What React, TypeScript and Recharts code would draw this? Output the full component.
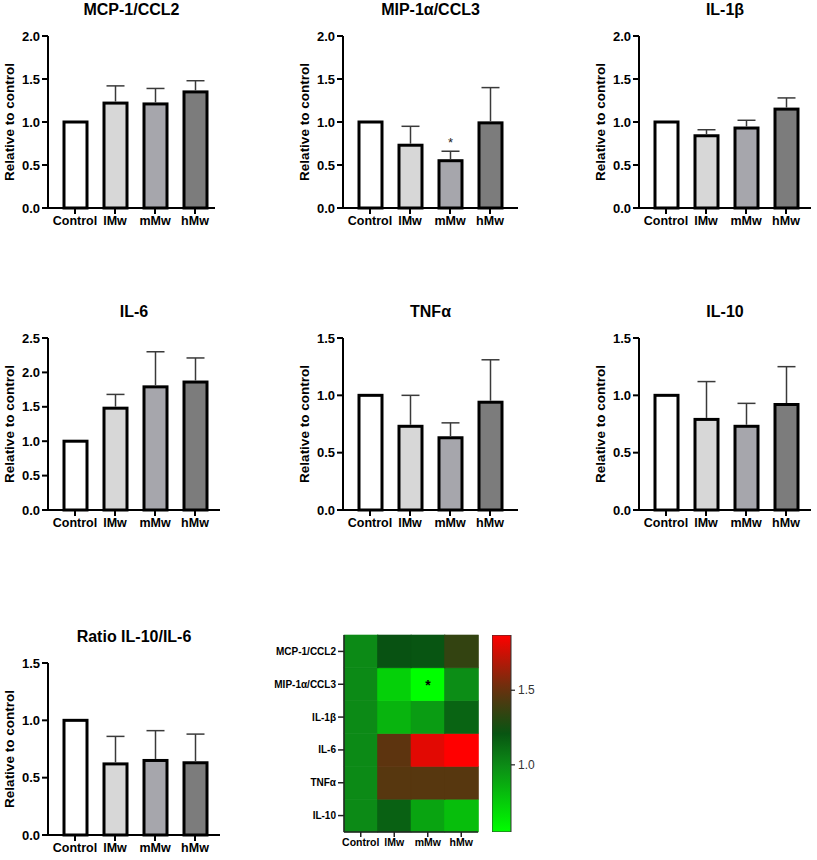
import React from "react";
import { BarChart, Bar, XAxis, YAxis } from "recharts";

const FONT = '"Liberation Sans", Arial, Helvetica, sans-serif';

// groups on the x axis
const groups = ["Control", "lMw", "mMw", "hMw"];
const groupFills = ["#ffffff", "#d7d7d7", "#a6a6ac", "#7c7c7c"];

// bar panels: mean and upper SD (relative to control)
const mcpMean = [1.0, 1.22, 1.21, 1.35];
const mcpErr = [0, 0.2, 0.18, 0.13];
const mipMean = [1.0, 0.73, 0.55, 0.99];
const mipErr = [0, 0.22, 0.11, 0.41];
const mipSig = ["", "", "*", ""];
const il1bMean = [1.0, 0.84, 0.93, 1.15];
const il1bErr = [0, 0.07, 0.09, 0.13];
const il6Mean = [1.0, 1.48, 1.79, 1.86];
const il6Err = [0, 0.2, 0.51, 0.35];
const tnfMean = [1.0, 0.73, 0.63, 0.94];
const tnfErr = [0, 0.27, 0.13, 0.37];
const il10Mean = [1.0, 0.79, 0.73, 0.92];
const il10Err = [0, 0.33, 0.2, 0.33];
const ratioMean = [1.0, 0.62, 0.65, 0.63];
const ratioErr = [0, 0.24, 0.26, 0.25];

const ticks20 = [0, 0.5, 1.0, 1.5, 2.0];
const ticks25 = [0, 0.5, 1.0, 1.5, 2.0, 2.5];
const ticks15 = [0, 0.5, 1.0, 1.5];

// heatmap rows (top to bottom) and values per group
const heatRows = ["MCP-1/CCL2", "MIP-1α/CCL3", "IL-1β", "IL-6", "TNFα", "IL-10"];
const heatMCP = [1.0, 1.22, 1.21, 1.35];
const heatMIP = [1.0, 0.73, 0.55, 0.99];
const heatIL1b = [1.0, 0.84, 0.93, 1.15];
const heatIL6 = [1.0, 1.48, 1.8, 1.87];
const heatTNF = [1.0, 1.46, 1.46, 1.46];
const heatIL10 = [1.0, 1.16, 0.9, 0.8];
const heatValues = [heatMCP, heatMIP, heatIL1b, heatIL6, heatTNF, heatIL10];
const heatSig = [["", "", "", ""], mipSig, ["", "", "", ""], ["", "", "", ""], ["", "", "", ""], ["", "", "", ""]];
const scaleMin = 0.55;
const scaleMax = 1.87;
const scaleTicks = [1.0, 1.5];

const colorStops: [number, number[]][] = [
  [0.55, [0, 255, 0]],
  [1.0, [12, 138, 22]],
  [1.22, [8, 82, 18]],
  [1.5, [100, 50, 15]],
  [1.87, [255, 0, 0]],
];

function heatColor(v: number) {
  if (v <= colorStops[0][0]) return `rgb(${colorStops[0][1].join(",")})`;
  for (let i = 1; i < colorStops.length; i++) {
    const [v1, c1] = colorStops[i];
    const [v0, c0] = colorStops[i - 1];
    if (v <= v1) {
      const t = (v - v0) / (v1 - v0);
      const c = c0.map((a, k) => Math.round(a + (c1[k] - a) * t));
      return `rgb(${c.join(",")})`;
    }
  }
  return `rgb(${colorStops[colorStops.length - 1][1].join(",")})`;
}

const PLOT_H = 172;
const Y_W = 48;

function BarShape(props: any) {
  const { x, y, width, height, payload, index } = props;
  const unit = height / payload.mean;
  const capY = y - payload.err * unit;
  const cx = x + width / 2;
  return (
    <g>
      <rect x={x} y={y} width={width} height={height} fill={groupFills[index]} stroke="#000" strokeWidth={3} />
      {payload.err > 0 && (
        <g stroke="#3a3a3a" strokeWidth={1.5}>
          <line x1={cx} x2={cx} y1={y - 1.5} y2={capY} />
          <line x1={cx - 9} x2={cx + 9} y1={capY} y2={capY} />
        </g>
      )}
      {payload.sig && (
        <text x={cx} y={capY - 4} textAnchor="middle" fontSize={13} fontFamily={FONT} fill="#222">
          {payload.sig}
        </text>
      )}
    </g>
  );
}

function Panel(p: {
  title: string;
  means: number[];
  errs: number[];
  ticks: number[];
  sig?: string[];
  axisX: number;
  plotTop: number;
  axisLen: number;
}) {
  const data = groups.map((name, i) => ({
    name,
    mean: p.means[i],
    err: p.errs[i],
    sig: p.sig ? p.sig[i] : "",
  }));
  const top = p.plotTop - 12;
  const left = p.axisX - Y_W;
  return (
    <>
      <div
        style={{
          position: "absolute",
          left: p.axisX,
          width: p.axisLen,
          top: p.plotTop - 26 - 10,
          height: 20,
          lineHeight: "20px",
          textAlign: "center",
          fontFamily: FONT,
          fontWeight: "bold",
          fontSize: 16,
          color: "#000",
        }}
      >
        {p.title}
      </div>
      <div style={{ position: "absolute", left, top }}>
        <BarChart
          width={Y_W + p.axisLen + 4}
          height={12 + PLOT_H + 30}
          data={data}
          margin={{ top: 12, right: 4, bottom: 0, left: 0 }}
          barSize={23}
        >
          <XAxis
            dataKey="name"
            height={30}
            padding={{ left: 7, right: p.axisLen - 167 }}
            axisLine={{ stroke: "#000", strokeWidth: 2 }}
            tickLine={{ stroke: "#000", strokeWidth: 2 }}
            tickSize={6}
            tick={{ fontSize: 12.5, fontWeight: "bold", fill: "#000", stroke: "none", fontFamily: FONT }}
            interval={0}
          />
          <YAxis
            width={Y_W}
            domain={[p.ticks[0], p.ticks[p.ticks.length - 1]]}
            ticks={p.ticks}
            tickFormatter={(v: number) => v.toFixed(1)}
            axisLine={{ stroke: "#000", strokeWidth: 2 }}
            tickLine={{ stroke: "#000", strokeWidth: 2 }}
            tickSize={6}
            tick={{ fontSize: 13, fontWeight: "bold", fill: "#000", stroke: "none", fontFamily: FONT }}
            label={({ viewBox }: any) => {
              const lx = viewBox.x + 14;
              const ly = viewBox.y + viewBox.height / 2;
              return (
                <text
                  x={lx}
                  y={ly}
                  transform={`rotate(-90, ${lx}, ${ly})`}
                  textAnchor="middle"
                  fontSize={13.5}
                  fontWeight="bold"
                  fontFamily={FONT}
                  fill="#000"
                >
                  Relative to control
                </text>
              );
            }}
          />
          <Bar dataKey="mean" shape={BarShape} isAnimationActive={false} />
        </BarChart>
      </div>
    </>
  );
}

const heatData = groups.map((name) => {
  const d: Record<string, any> = { name };
  heatRows.forEach((r) => (d[r] = 1));
  return d;
});

function HeatMap() {
  const HY_W = 80;
  const plotW = 134;
  const plotH = 197;
  return (
    <div style={{ position: "absolute", left: 344 - HY_W, top: 630 }}>
      <BarChart
        width={HY_W + plotW + 2}
        height={5 + plotH + 25}
        data={heatData}
        margin={{ top: 5, right: 2, bottom: 0, left: 0 }}
        barCategoryGap={0}
      >
        <XAxis
          dataKey="name"
          height={25}
          axisLine={{ stroke: "#222", strokeWidth: 1.5 }}
          tickLine={{ stroke: "#222", strokeWidth: 1.5 }}
          tickSize={5}
          interval={0}
          tick={{ fontSize: 10.5, fontWeight: "bold", fill: "#000", stroke: "none", fontFamily: FONT }}
        />
        <XAxis
          xAxisId="frame"
          dataKey="name"
          orientation="top"
          height={0}
          tick={false}
          tickLine={false}
          axisLine={{ stroke: "#222", strokeWidth: 1.5 }}
        />
        <YAxis
          type="number"
          width={HY_W}
          domain={[0, heatRows.length]}
          ticks={heatRows.map((_, i) => i + 0.5)}
          tickFormatter={(v: number) => heatRows[heatRows.length - 1 - Math.floor(v)]}
          axisLine={{ stroke: "#222", strokeWidth: 1.5 }}
          tickLine={{ stroke: "#222", strokeWidth: 1.5 }}
          tickSize={6}
          tick={{ fontSize: 10, fontWeight: "bold", fill: "#000", stroke: "none", fontFamily: FONT }}
        />
        <YAxis
          yAxisId="frame"
          orientation="right"
          width={0}
          tick={false}
          tickLine={false}
          axisLine={{ stroke: "#222", strokeWidth: 1.5 }}
        />
        {heatRows
          .map((row, ri) => (
            <Bar
              key={row}
              dataKey={row}
              stackId="heat"
              isAnimationActive={false}
              shape={(sp: any) => {
                const fill = heatColor(heatValues[ri][sp.index]);
                const star = heatSig[ri][sp.index];
                return (
                  <g>
                    <rect x={sp.x} y={sp.y} width={sp.width} height={sp.height} fill={fill} stroke={fill} strokeWidth={0.6} />
                    {star && (
                      <text
                        x={sp.x + sp.width / 2}
                        y={sp.y + sp.height / 2 + 6}
                        textAnchor="middle"
                        fontSize={14}
                        fontWeight="bold"
                        fontFamily={FONT}
                        fill="#000"
                      >
                        {star}
                      </text>
                    )}
                  </g>
                );
              }}
            />
          ))
          .reverse()}
      </BarChart>
    </div>
  );
}

function ScaleTick(tp: any) {
  return (
    <text x={tp.x + 1} y={tp.y} dy="0.35em" textAnchor="start" fontSize={12} fontFamily={FONT} fill="#333">
      {Number(tp.payload.value).toFixed(1)}
    </text>
  );
}

function ColorBar() {
  const data = [{ name: "scale", range: [scaleMin, scaleMax] }];
  const n = 12;
  const stops = Array.from({ length: n + 1 }, (_, i) => {
    const v = scaleMax - ((scaleMax - scaleMin) * i) / n;
    return { off: i / n, color: heatColor(v) };
  });
  return (
    <div style={{ position: "absolute", left: 492, top: 630 }}>
      <BarChart
        width={19 + 40}
        height={5 + 197 + 5}
        data={data}
        margin={{ top: 5, right: 0, bottom: 5, left: 0 }}
        barCategoryGap={0}
      >
        <defs>
          <linearGradient id="heatGrad" x1="0" y1="0" x2="0" y2="1">
            {stops.map((s, i) => (
              <stop key={i} offset={s.off} stopColor={s.color} />
            ))}
          </linearGradient>
        </defs>
        <XAxis dataKey="name" hide />
        <YAxis
          orientation="right"
          width={40}
          domain={[scaleMin, scaleMax]}
          ticks={scaleTicks}
          allowDataOverflow
          axisLine={false}
          tickLine={{ stroke: "#222", strokeWidth: 1.2 }}
          tickSize={4}
          tick={ScaleTick}
        />
        <Bar dataKey="range" fill="url(#heatGrad)" stroke="#333" strokeWidth={1} isAnimationActive={false} />
      </BarChart>
    </div>
  );
}

export default function App() {
  return (
    <div style={{ position: "absolute", left: 0, top: 0, width: 817, height: 860, background: "#fff" }}>
      <Panel title="MCP-1/CCL2" means={mcpMean} errs={mcpErr} ticks={ticks20} axisX={48} plotTop={36} axisLen={167} />
      <Panel title="MIP-1α/CCL3" means={mipMean} errs={mipErr} sig={mipSig} ticks={ticks20} axisX={343} plotTop={36} axisLen={175} />
      <Panel title="IL-1β" means={il1bMean} errs={il1bErr} ticks={ticks20} axisX={639} plotTop={36} axisLen={172} />
      <Panel title="IL-6" means={il6Mean} errs={il6Err} ticks={ticks25} axisX={48} plotTop={338} axisLen={172} />
      <Panel title="TNFα" means={tnfMean} errs={tnfErr} ticks={ticks15} axisX={343} plotTop={338} axisLen={175} />
      <Panel title="IL-10" means={il10Mean} errs={il10Err} ticks={ticks15} axisX={639} plotTop={338} axisLen={172} />
      <Panel title="Ratio IL-10/IL-6" means={ratioMean} errs={ratioErr} ticks={ticks15} axisX={48} plotTop={663} axisLen={172} />
      <HeatMap />
      <ColorBar />
    </div>
  );
}
